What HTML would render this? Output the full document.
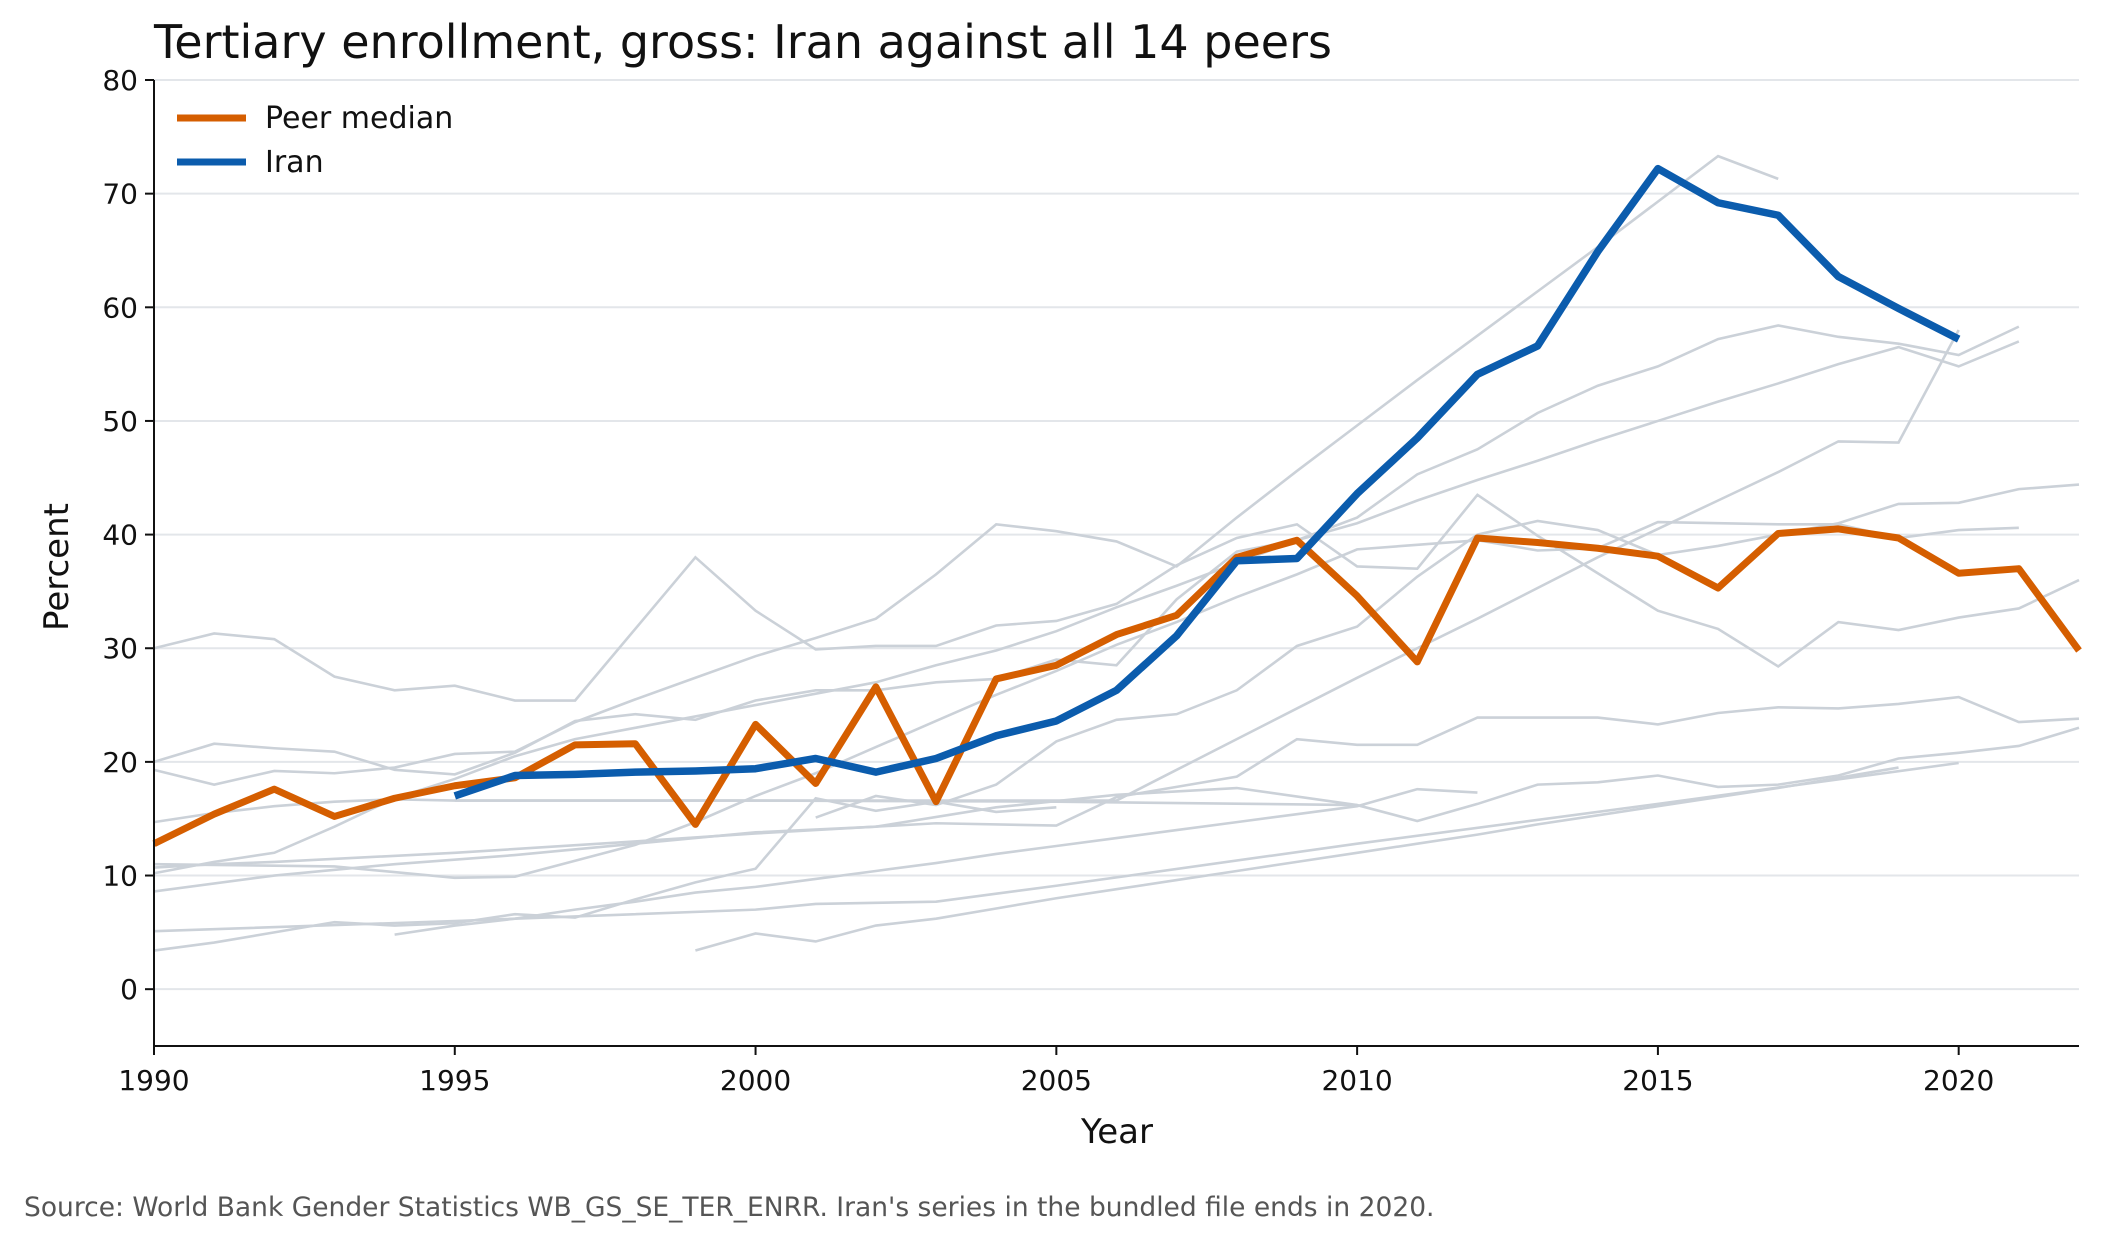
<!DOCTYPE html>
<html><head><meta charset="utf-8"><style>
html,body{margin:0;padding:0;background:#fff;}
svg{display:block;font-family:"DejaVu Sans","Liberation Sans",sans-serif;}
</style></head><body>
<svg id="chart" width="2102" height="1247" viewBox="0 0 2102 1247" xmlns="http://www.w3.org/2000/svg">
<text x="154" y="58" font-size="46" fill="#111">Tertiary enrollment, gross: Iran against all 14 peers</text>
<g id="grid"></g><g id="peers"></g><g id="main"></g><g id="axes"></g>
<text x="1117" y="1143" font-size="34" text-anchor="middle" fill="#111">Year</text>
<text transform="translate(68,567) rotate(-90)" font-size="34" text-anchor="middle" fill="#111">Percent</text>
<text x="24" y="1216" font-size="26.5" fill="#555">Source: World Bank Gender Statistics WB_GS_SE_TER_ENRR. Iran's series in the bundled file ends in 2020.</text>
<g>
<line x1="177" y1="118" x2="246" y2="118" stroke="#d55e00" stroke-width="7"/>
<text x="265" y="128" font-size="30" fill="#111">Peer median</text>
<line x1="177" y1="162" x2="246" y2="162" stroke="#0b5cad" stroke-width="7"/>
<text x="265" y="172" font-size="30" fill="#111">Iran</text>
</g>
</svg>
<script>
const xTicks=[1990,1995,2000,2005,2010,2015,2020];
const yTicks=[0,10,20,30,40,50,60,70,80];
const iranYears=[1995,1996,1997,1998,1999,2000,2001,2002,2003,2004,2005,2006,2007,2008,2009,2010,2011,2012,2013,2014,2015,2016,2017,2018,2019,2020];
const iranValues=[17,18.8,18.9,19.1,19.2,19.4,20.3,19.1,20.3,22.3,23.6,26.3,31.1,37.7,37.9,43.6,48.5,54.1,56.6,64.9,72.2,69.2,68.1,62.7,59.9,57.2];
const medianYears=[1990,1991,1992,1993,1994,1995,1996,1997,1998,1999,2000,2001,2002,2003,2004,2005,2006,2007,2008,2009,2010,2011,2012,2013,2014,2015,2016,2017,2018,2019,2020,2021,2022];
const medianValues=[12.8,15.4,17.6,15.2,16.8,17.9,18.6,21.5,21.6,14.5,23.3,18.1,26.6,16.5,27.3,28.5,31.2,32.9,38.0,39.5,34.6,28.8,39.7,39.3,38.8,38.1,35.3,40.1,40.5,39.7,36.6,37.0,29.8];
const peerA=[[1990,30],[1991,31.3],[1992,30.8],[1993,27.5],[1994,26.3],[1995,26.7],[1996,25.4],[1997,25.4],[1998,31.7],[1999,38],[2000,33.3],[2001,29.9],[2002,30.2],[2003,30.2],[2004,32],[2005,32.4],[2006,33.9],[2007,37.3],[2008,39.7],[2009,40.9],[2010,37.2],[2011,37.0],[2012,43.5],[2013,39.9],[2014,36.6],[2015,33.3],[2016,31.7],[2017,28.4],[2018,32.3],[2019,31.6],[2020,32.7],[2021,33.5],[2022,36.0]];
const peerB=[[1990,19.3],[1991,18.0],[1992,19.2],[1993,19.0],[1994,19.5],[1995,20.7],[1996,20.9],[1997,23.5],[1998,25.5],[1999,27.4],[2000,29.3],[2001,30.9],[2002,32.6],[2003,36.5],[2004,40.9],[2005,40.3],[2006,39.4],[2007,37.2],[2008,41.5],[2009,45.6],[2010,49.6],[2011,53.6],[2012,57.5],[2013,61.4],[2014,65.3],[2015,69.3],[2016,73.3],[2017,71.3]];
const peerC=[[1990,20],[1991,21.6],[1992,21.2],[1993,20.9],[1994,19.3],[1995,18.9],[1996,20.8],[1997,23.6],[1998,24.2],[1999,23.7],[2000,25.4],[2001,26.3],[2002,26.3],[2003,27.0],[2004,27.3],[2005,29.0],[2006,28.5],[2007,34.3],[2008,38.5],[2009,39.5],[2010,41.5],[2011,45.3],[2012,47.5],[2013,50.7],[2014,53.1],[2015,54.8],[2016,57.2],[2017,58.4],[2018,57.4],[2019,56.8],[2020,55.8],[2021,58.3]];
const peerD=[[1990,10.2],[1991,11.2],[1992,12.0],[1993,14.3],[1994,16.8],[1995,18.5],[1996,20.5],[1997,22],[1998,23],[1999,24],[2000,25],[2001,26],[2002,27],[2003,28.5],[2004,29.8],[2005,31.5],[2006,33.6],[2007,35.5],[2008,37.5],[2009,39.5],[2010,41],[2011,43],[2012,44.8],[2013,46.5],[2014,48.3],[2015,50],[2016,51.7],[2017,53.3],[2018,55],[2019,56.5],[2020,54.8],[2021,57]];
const peerE=[[1990,14.7],[1991,15.5],[1992,16.1],[1993,16.5],[1994,16.7],[1995,16.6],[2000,16.6],[2005,16.5],[2010,16.2],[2011,14.8],[2012,16.3],[2013,18],[2014,18.2],[2015,18.8],[2016,17.8],[2017,18],[2018,18.8],[2019,20.3],[2020,20.8],[2021,21.4],[2022,23]];
const peerF=[[1990,10.7],[1991,11],[1992,11.2],[1995,12],[1998,13],[2000,13.7],[2003,14.6],[2005,14.4],[2006,16.9],[2007,17.8],[2008,18.7],[2009,22],[2010,21.5],[2011,21.5],[2012,23.9],[2013,23.9],[2014,23.9],[2015,23.3],[2016,24.3],[2017,24.8],[2018,24.7],[2019,25.1],[2020,25.7],[2021,23.5],[2022,23.8]];
const peerG=[[1990,8.6],[1992,10],[1994,11],[1996,11.8],[1998,12.8],[2000,13.8],[2002,14.3],[2004,16],[2006,17.1],[2008,17.7],[2010,16.2]];
const peerH=[[1990,5.1],[1995,6.0],[2000,7.0],[2001,7.5],[2002,7.6],[2003,7.7],[2004,8.4],[2005,9.1],[2010,12.8],[2015,16.3],[2020,19.9]];
const peerI=[[1990,3.4],[1991,4.1],[1992,5.0],[1993,5.9],[1994,5.6],[1995,5.8],[1996,6.6],[1997,6.3],[1998,7.9],[1999,9.4],[2000,10.6],[2001,16.8],[2002,15.7],[2003,16.5],[2004,15.6],[2005,16.0]];
const peerJ=[[1994,4.8],[1995,5.6],[1996,6.2],[1997,7.0],[1998,7.7],[1999,8.5],[2000,9.0],[2001,9.7],[2002,10.4],[2003,11.1],[2004,11.9],[2005,12.6],[2006,13.3],[2007,14],[2008,14.7],[2009,15.4],[2010,16.1],[2011,17.6],[2012,17.3]];
const peerK=[[1999,3.4],[2000,4.9],[2001,4.2],[2002,5.6],[2003,6.2],[2004,7.1],[2005,8.0],[2006,8.8],[2007,9.6],[2008,10.4],[2009,11.2],[2010,12.0],[2011,12.8],[2012,13.6],[2013,14.5],[2014,15.3],[2015,16.1],[2016,16.9],[2017,17.7],[2018,18.6],[2019,19.5]];
const peerL=[[2001,15.1],[2002,17],[2003,16.2],[2004,18],[2005,21.8],[2006,23.7],[2007,24.2],[2008,26.3],[2009,30.2],[2010,31.9],[2011,36.3],[2012,40],[2013,41.2],[2014,40.4],[2015,38.2],[2016,39],[2017,40],[2018,41],[2019,42.7],[2020,42.8],[2021,44],[2022,44.4]];
const peerM=[[1990,11],[1993,10.8],[1995,9.8],[1996,9.9],[1997,11.3],[1998,12.7],[1999,14.7],[2000,17],[2001,19],[2002,21.3],[2003,23.6],[2004,25.9],[2005,28],[2006,30.3],[2007,32.3],[2008,34.5],[2009,36.5],[2010,38.7],[2011,39.1],[2012,39.5],[2013,38.6],[2014,38.8],[2015,41.1],[2016,41.0],[2017,40.9],[2018,40.9],[2019,39.7],[2020,40.4],[2021,40.6]];
const peerN=[[1995,16.6],[2006,16.6],[2007,19.3],[2008,22],[2009,24.7],[2010,27.4],[2011,30],[2012,32.6],[2013,35.3],[2014,38],[2015,40.5],[2016,43],[2017,45.5],[2018,48.2],[2019,48.1],[2020,58]];
const peers=[peerA,peerB,peerC,peerD,peerE,peerF,peerG,peerH,peerI,peerJ,peerK,peerL,peerM,peerN];

const L=154,R=2079,T=80,B=1046;
const X0=1990,X1=2022,Y0=-5,Y1=80;
const xs=v=>L+(v-X0)/(X1-X0)*(R-L);
const ys=v=>B-(v-Y0)/(Y1-Y0)*(B-T);
const NS='http://www.w3.org/2000/svg';
function mk(tag,parent){const e=document.createElementNS(NS,tag);document.getElementById(parent).appendChild(e);return e;}
yTicks.forEach(v=>{
  const g=mk('line','grid');
  
  
  g.setAttribute('x1',L);g.setAttribute('x2',R);g.setAttribute('y1',ys(v));g.setAttribute('y2',ys(v));
  g.setAttribute('stroke','#e3e6ea');g.setAttribute('stroke-width','2');
  const t=mk('line','axes');
  
  
  t.setAttribute('x1',L-9);t.setAttribute('x2',L);t.setAttribute('y1',ys(v));t.setAttribute('y2',ys(v));
  t.setAttribute('stroke','#111');t.setAttribute('stroke-width','2');
  const l=mk('text','axes');
  
  
  l.setAttribute('x',L-16);l.setAttribute('y',ys(v)+10);l.setAttribute('text-anchor','end');l.setAttribute('font-size','28');l.setAttribute('fill','#111');
  l.textContent=v;
});
xTicks.forEach(v=>{
  const t=mk('line','axes');
  
  
  t.setAttribute('x1',xs(v));t.setAttribute('x2',xs(v));t.setAttribute('y1',B);t.setAttribute('y2',B+9);
  t.setAttribute('stroke','#111');t.setAttribute('stroke-width','2');
  const l=mk('text','axes');
  
  
  l.setAttribute('x',xs(v));l.setAttribute('y',B+44);l.setAttribute('text-anchor','middle');l.setAttribute('font-size','28');l.setAttribute('fill','#111');
  l.textContent=v;
});
const ax=mk('path','axes');


ax.setAttribute('d','M'+L+' '+T+'V'+B+'H'+R);ax.setAttribute('fill','none');ax.setAttribute('stroke','#111');ax.setAttribute('stroke-width','2');
peers.forEach((p,i)=>{
  const e=mk('polyline','peers');
  
  
  e.setAttribute('points',p.map(d=>xs(d[0])+','+ys(d[1])).join(' '));
  e.setAttribute('fill','none');e.setAttribute('stroke','#cbd1d8');e.setAttribute('stroke-width','2.6');
});
const med=mk('polyline','main');


med.setAttribute('points',medianYears.map((y,i)=>xs(y)+','+ys(medianValues[i])).join(' '));
med.setAttribute('fill','none');med.setAttribute('stroke','#d55e00');med.setAttribute('stroke-width','7');med.setAttribute('stroke-linejoin','round');
const ir=mk('polyline','main');


ir.setAttribute('points',iranYears.map((y,i)=>xs(y)+','+ys(iranValues[i])).join(' '));
ir.setAttribute('fill','none');ir.setAttribute('stroke','#0b5cad');ir.setAttribute('stroke-width','7.5');ir.setAttribute('stroke-linejoin','round');
</script>
</body></html>
